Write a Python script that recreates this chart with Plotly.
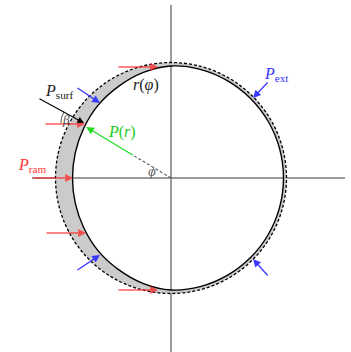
import numpy as np
import plotly.graph_objects as go

# Shell geometry (pixel-like units, centre of the cloud at the origin)
R_outer = 115.5                                   # radius of the unperturbed (dashed) circle
phi_deg = [0, 15, 30, 45, 60, 75, 90, 105, 120, 135, 150, 165, 180]
shell_thickness = [17, 16.5, 15, 12.5, 10, 6.5, 3.5, 3, 3, 3, 3, 3, 3]

# Ram-pressure arrows (horizontal, coming from the left)
ram_y = [111, 54, 0, -55, -112]
ram_tip_x = [-13, -86, -98, -85, -13]
ram_len = 41

# External-pressure arrows: (tail_x, tail_y, tip_x, tip_y)
ext_arrows = [(-95, 91, -71, 75), (-95, -93, -71, -77),
              (98, 97, 82, 80), (98, -99, 82, -81)]

# Radial line at angle phi (measured from the ram direction)
phi_mark = 31
r_green_start, r_green_end = 43, 99

# Surface-pressure arrow
surf_tail = (-133, 80)
surf_tip = (-87, 55)


def loop(radii):
    """Closed path through the sampled radii, mirrored top/bottom,
    starting and ending on the right-hand side (phi = 180)."""
    ph = np.radians(np.array(phi_deg, dtype=float))
    r = np.asarray(radii, dtype=float)
    # upper half, from phi=180 round to phi=0
    xs_up, ys_up = (-r * np.cos(ph))[::-1], (r * np.sin(ph))[::-1]
    # lower half, from phi=15 back to phi=180
    xs_lo, ys_lo = (-r * np.cos(ph))[1:], (-r * np.sin(ph))[1:]
    return np.concatenate([xs_up, xs_lo]), np.concatenate([ys_up, ys_lo])


inner_r = [R_outer - t for t in shell_thickness]
outer_r = [R_outer] * len(phi_deg)
xi, yi = loop(inner_r)
xo, yo = loop(outer_r)

fig = go.Figure()

AX = "#7a7a7a"
# coordinate axes
fig.add_shape(type="line", x0=-139, y0=0, x1=174, y1=0, line=dict(color=AX, width=1.5), layer="below")
fig.add_shape(type="line", x0=0, y0=173, x1=0, y1=-180, line=dict(color=AX, width=1.5), layer="below")

# shell: inner surface and grey band up to the dashed circle
fig.add_trace(go.Scatter(x=xi, y=yi, mode="lines", line=dict(color="black", width=0, shape="spline"),
                         hoverinfo="skip"))
fig.add_trace(go.Scatter(x=xo, y=yo, mode="lines", fill="tonext", fillcolor="#cbcbcb",
                         line=dict(color="black", width=1.3, dash="3px,2px", shape="spline"),
                         hoverinfo="skip"))
fig.add_trace(go.Scatter(x=xi, y=yi, mode="lines", line=dict(color="black", width=1.4, shape="spline"),
                         hoverinfo="skip"))

# dashed radial line and green P(r) arrow
ph = np.radians(phi_mark)
gx0, gy0 = -r_green_start * np.cos(ph), r_green_start * np.sin(ph)
gx1, gy1 = -r_green_end * np.cos(ph), r_green_end * np.sin(ph)
fig.add_trace(go.Scatter(x=[0, gx0], y=[0, gy0], mode="lines",
                         line=dict(color="#555555", width=1.1, dash="3px,2px"), hoverinfo="skip"))

# angle arc for phi
arc_t = np.radians(np.linspace(180 - phi_mark, 180, 12))
fig.add_trace(go.Scatter(x=20 * np.cos(arc_t), y=20 * np.sin(arc_t), mode="lines",
                         line=dict(color="#777777", width=1), hoverinfo="skip"))

# angle arc for beta at the surface arrow tip
b_start = np.degrees(np.arctan2(surf_tail[1] - surf_tip[1], surf_tail[0] - surf_tip[0]))
arc_b = np.radians(np.linspace(b_start, 180, 12))
fig.add_trace(go.Scatter(x=surf_tip[0] + 23 * np.cos(arc_b), y=surf_tip[1] + 23 * np.sin(arc_b),
                         mode="lines", line=dict(color="#555555", width=1), hoverinfo="skip"))


def arrow(tail, tip, color, width=1.3, size=1.2):
    fig.add_annotation(x=tip[0], y=tip[1], ax=tail[0], ay=tail[1], xref="x", yref="y",
                       axref="x", ayref="y", text="", showarrow=True, arrowhead=2,
                       arrowsize=size, arrowwidth=width, arrowcolor=color, standoff=0)


RED = "rgba(255,40,40,0.75)"
for y, tx in zip(ram_y, ram_tip_x):
    arrow((tx - ram_len, y), (tx, y), RED)

BLUE = "#3a3aff"
for tx0, ty0, tx1, ty1 in ext_arrows:
    arrow((tx0, ty0), (tx1, ty1), BLUE)

arrow((gx0, gy0), (gx1, gy1), "#22dd22")
arrow(surf_tail, surf_tip, "black", width=1.1)

SERIF = "Liberation Serif"


def label(x, y, text, color, size=15):
    fig.add_annotation(x=x, y=y, xref="x", yref="y", text=text, showarrow=False,
                       font=dict(family=SERIF, size=size, color=color))


label(-139, 13, "<i>P</i><sub>ram</sub>", "#ff3333", size=16)
label(-112, 87, "<i>P</i><sub>surf</sub>", "#222222", size=16)
label(105, 104, "<i>P</i><sub>ext</sub>", "#3333ff", size=16)
label(-49, 46, "<i>P</i>(<i>r</i>)", "#22cc22", size=16)
label(-25, 93, "<i>r</i>(<i>φ</i>)", "#222222", size=16)
label(-19, 7, "<i>φ</i>", "#666666", size=14)
label(-105, 59, "<i>β</i>", "#444444", size=13)

fig.update_layout(
    width=351, height=352, margin=dict(l=0, r=0, t=0, b=0),
    paper_bgcolor="white", plot_bgcolor="white", showlegend=False,
    xaxis=dict(range=[-171, 180], visible=False, fixedrange=True),
    yaxis=dict(range=[-174, 178], visible=False, fixedrange=True),
)

fig.write_html("out.html")
